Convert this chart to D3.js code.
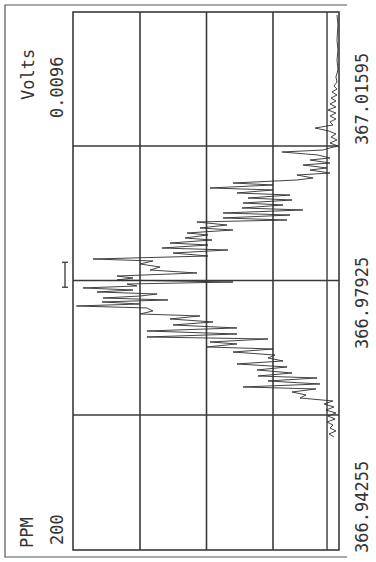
<!DOCTYPE html>
<html>
<head>
<meta charset="utf-8">
<script src="https://cdn.jsdelivr.net/npm/d3@7"></script>
<style>
  html, body { margin: 0; padding: 0; background: #fff; }
</style>
</head>
<body>
<svg id="svg"></svg>
<script>
// frequency axis (MHz) and tick labels
const freqDomain = [366.94255, 367.01595];
const freqGrid = [366.96090, 366.97925, 366.99760];
const freqLabels = ["366.94255", "366.97925", "367.01595"];

// value axis
const ppmDomain = [0, 200];
const ppmGrid = [50, 100, 150];
const ppmMax = "200";
const voltsMax = "0.0096";
const thresholdPPM = 9;
const resolutionBar = [366.9784, 366.9818];

// trace
const freq = [
  366.95797, 366.95838, 366.95879, 366.95919, 366.95960, 366.96001, 366.96042, 366.96083,
  366.96124, 366.96165, 366.96206, 366.96247, 366.96288, 366.96329, 366.96370, 366.96411,
  366.96452, 366.96479, 366.96520, 366.96561, 366.96602, 366.96629, 366.96670, 366.96711,
  366.96752, 366.96793, 366.96834, 366.96875, 366.96915, 366.96956, 366.96997, 366.97025,
  366.97066, 366.97093, 366.97134, 366.97161, 366.97202, 366.97243, 366.97284, 366.97325,
  366.97366, 366.97407, 366.97448, 366.97475, 366.97516, 366.97557, 366.97584, 366.97611,
  366.97639, 366.97666, 366.97693, 366.97720, 366.97748, 366.97775, 366.97802, 366.97830,
  366.97857, 366.97884, 366.97911, 366.97939, 366.97966, 366.97993, 366.98034, 366.98075,
  366.98116, 366.98157, 366.98198, 366.98225, 366.98266, 366.98307, 366.98348, 366.98375,
  366.98416, 366.98443, 366.98484, 366.98512, 366.98553, 366.98580, 366.98621, 366.98648,
  366.98689, 366.98730, 366.98757, 366.98785, 366.98825, 366.98853, 366.98894, 366.98921,
  366.98962, 366.98989, 366.99030, 366.99057, 366.99098, 366.99126, 366.99167, 366.99194,
  366.99235, 366.99262, 366.99303, 366.99330, 366.99371, 366.99398, 366.99439, 366.99467,
  366.99508, 366.99535, 366.99576, 366.99603, 366.99644, 366.99685, 366.99712, 366.99740,
  366.99767, 366.99808, 366.99849, 366.99890, 366.99931, 366.99971, 367.00012, 367.00053,
  367.00094, 367.00135, 367.00176, 367.00217, 367.00258, 367.00299, 367.00340, 367.00381,
  367.00422, 367.00463, 367.00504, 367.00544, 367.00585, 367.00640, 367.00708, 367.00804,
  367.00940, 367.01077, 367.01213, 367.01418, 367.01554
];
const ppm = [
  3.8, 7.5, 2.3, 6.8, 4.5, 9.0, 3.0, 8.3,
  2.3, 9.8, 3.8, 11.3, 4.5, 29.3, 24.8, 35.3,
  17.3, 72.2, 14.3, 53.4, 16.5, 60.9, 35.3, 61.7,
  39.1, 76.7, 42.1, 53.4, 48.1, 79.7, 49.6, 99.3,
  76.7, 97.0, 53.4, 144.4, 76.7, 144.4, 76.7, 124.8,
  94.7, 127.1, 104.5, 149.6, 139.9, 144.4, 197.5, 149.6,
  178.2, 128.6, 177.4, 149.6, 136.8, 182.0, 154.9, 192.5,
  151.9, 159.4, 79.7, 166.9, 154.9, 166.9, 106.8, 142.1,
  134.6, 149.6, 139.9, 185.0, 98.5, 124.8, 83.5, 133.1,
  98.5, 127.1, 95.5, 115.8, 98.5, 114.3, 79.7, 104.5,
  84.2, 106.8, 39.1, 87.2, 36.8, 87.2, 27.1, 72.9,
  42.1, 72.2, 35.3, 68.4, 36.8, 76.7, 49.6, 97.0,
  49.6, 79.7, 31.6, 19.5, 31.6, 6.8, 21.8, 9.0,
  27.1, 6.8, 21.8, 6.8, 15.8, 42.9, 12.0, 6.8,
  0.8, 6.8, 1.5, 6.0, 2.3, 7.5, 18.0, 4.5,
  6.8, 2.3, 6.8, 2.3, 8.3, 2.3, 6.8, 2.3,
  6.0, 1.5, 5.3, 1.5, 3.8, 1.5, 2.3, 0.8,
  1.5, 0.8, 1.5, 0.8, 1.5
];

const trace = freq.map((f, i) => ({f: f, p: ppm[i]}));

const width = 376;
const height = 562;
const ink = "#3a3a3a";
const font = "'DejaVu Sans Mono', 'Liberation Mono', monospace";

let svg = d3.select("#svg")
  .attr("width", width)
  .attr("height", height)
  .attr("viewBox", [0, 0, width, height])
  .attr("style", "display:block")
  .attr("font-family", font);

// the printout is turned a quarter turn; draw it upright and rotate
const g = svg.append("g")
  .attr("transform", "translate(0," + height + ") rotate(-90)");

const plotL = 12, plotR = 550, plotT = 73, plotB = 339;

const xScale = d3.scaleLinear(freqDomain, [plotL, plotR]);
const yScale = d3.scaleLinear(ppmDomain, [plotB, plotT]);

// outer frame
g.append("path")
  .attr("d", "M5,347V5H557V347")
  .attr("fill", "none")
  .attr("stroke", "#555")
  .attr("stroke-width", 1.2);

// grid
g.append("g")
  .attr("transform", "translate(0," + plotB + ")")
  .call(d3.axisBottom(xScale).tickValues(freqGrid).tickSize(-(plotB - plotT)).tickFormat(""))
  .call(s => s.select(".domain").remove())
  .call(s => s.selectAll("line").attr("stroke", ink).attr("stroke-width", 1.6));

g.append("g")
  .attr("transform", "translate(" + plotL + ",0)")
  .call(d3.axisLeft(yScale).tickValues(ppmGrid).tickSize(-(plotR - plotL)).tickFormat(""))
  .call(s => s.select(".domain").remove())
  .call(s => s.selectAll("line").attr("stroke", ink).attr("stroke-width", 1.6));

g.append("line")
  .attr("x1", plotL).attr("x2", plotR)
  .attr("y1", yScale(thresholdPPM)).attr("y2", yScale(thresholdPPM))
  .attr("stroke", ink)
  .attr("stroke-width", 1.4);

g.append("rect")
  .attr("x", plotL).attr("y", plotT)
  .attr("width", plotR - plotL).attr("height", plotB - plotT)
  .attr("fill", "none")
  .attr("stroke", ink)
  .attr("stroke-width", 1.6);

// resolution marker above the peak
const rb = g.append("g").attr("stroke", ink).attr("stroke-width", 1.3);
rb.append("line")
  .attr("x1", xScale(resolutionBar[0])).attr("x2", xScale(resolutionBar[1]))
  .attr("y1", plotT - 8).attr("y2", plotT - 8);
resolutionBar.forEach(f => {
  rb.append("line")
    .attr("x1", xScale(f)).attr("x2", xScale(f))
    .attr("y1", plotT - 11).attr("y2", plotT - 5);
});

// trace
g.append("path")
  .datum(trace)
  .attr("fill", "none")
  .attr("stroke", "#2e2e2e")
  .attr("stroke-width", 0.9)
  .attr("stroke-linejoin", "round")
  .attr("d", d3.line()
    .x(d => xScale(d.f))
    .y(d => yScale(d.p)));

// header texts
const txt = g.append("g")
  .attr("fill", "#333")
  .attr("font-size", 17);

txt.append("text").attr("x", 14).attr("y", 33).text("PPM");
txt.append("text").attr("x", 17).attr("y", 63).text(ppmMax);
txt.append("text").attr("x", 462).attr("y", 34).text("Volts");
txt.append("text").attr("x", 444).attr("y", 63).text(voltsMax);

// frequency labels
const labelPos = d3.scaleLinear([0, freqLabels.length - 1], [9, 417]);
txt.selectAll(".flab")
  .data(freqLabels)
  .join("text")
  .attr("class", "flab")
  .attr("x", (d, i) => labelPos(i))
  .attr("y", 368)
  .text(d => d);
</script>
</body>
</html>
